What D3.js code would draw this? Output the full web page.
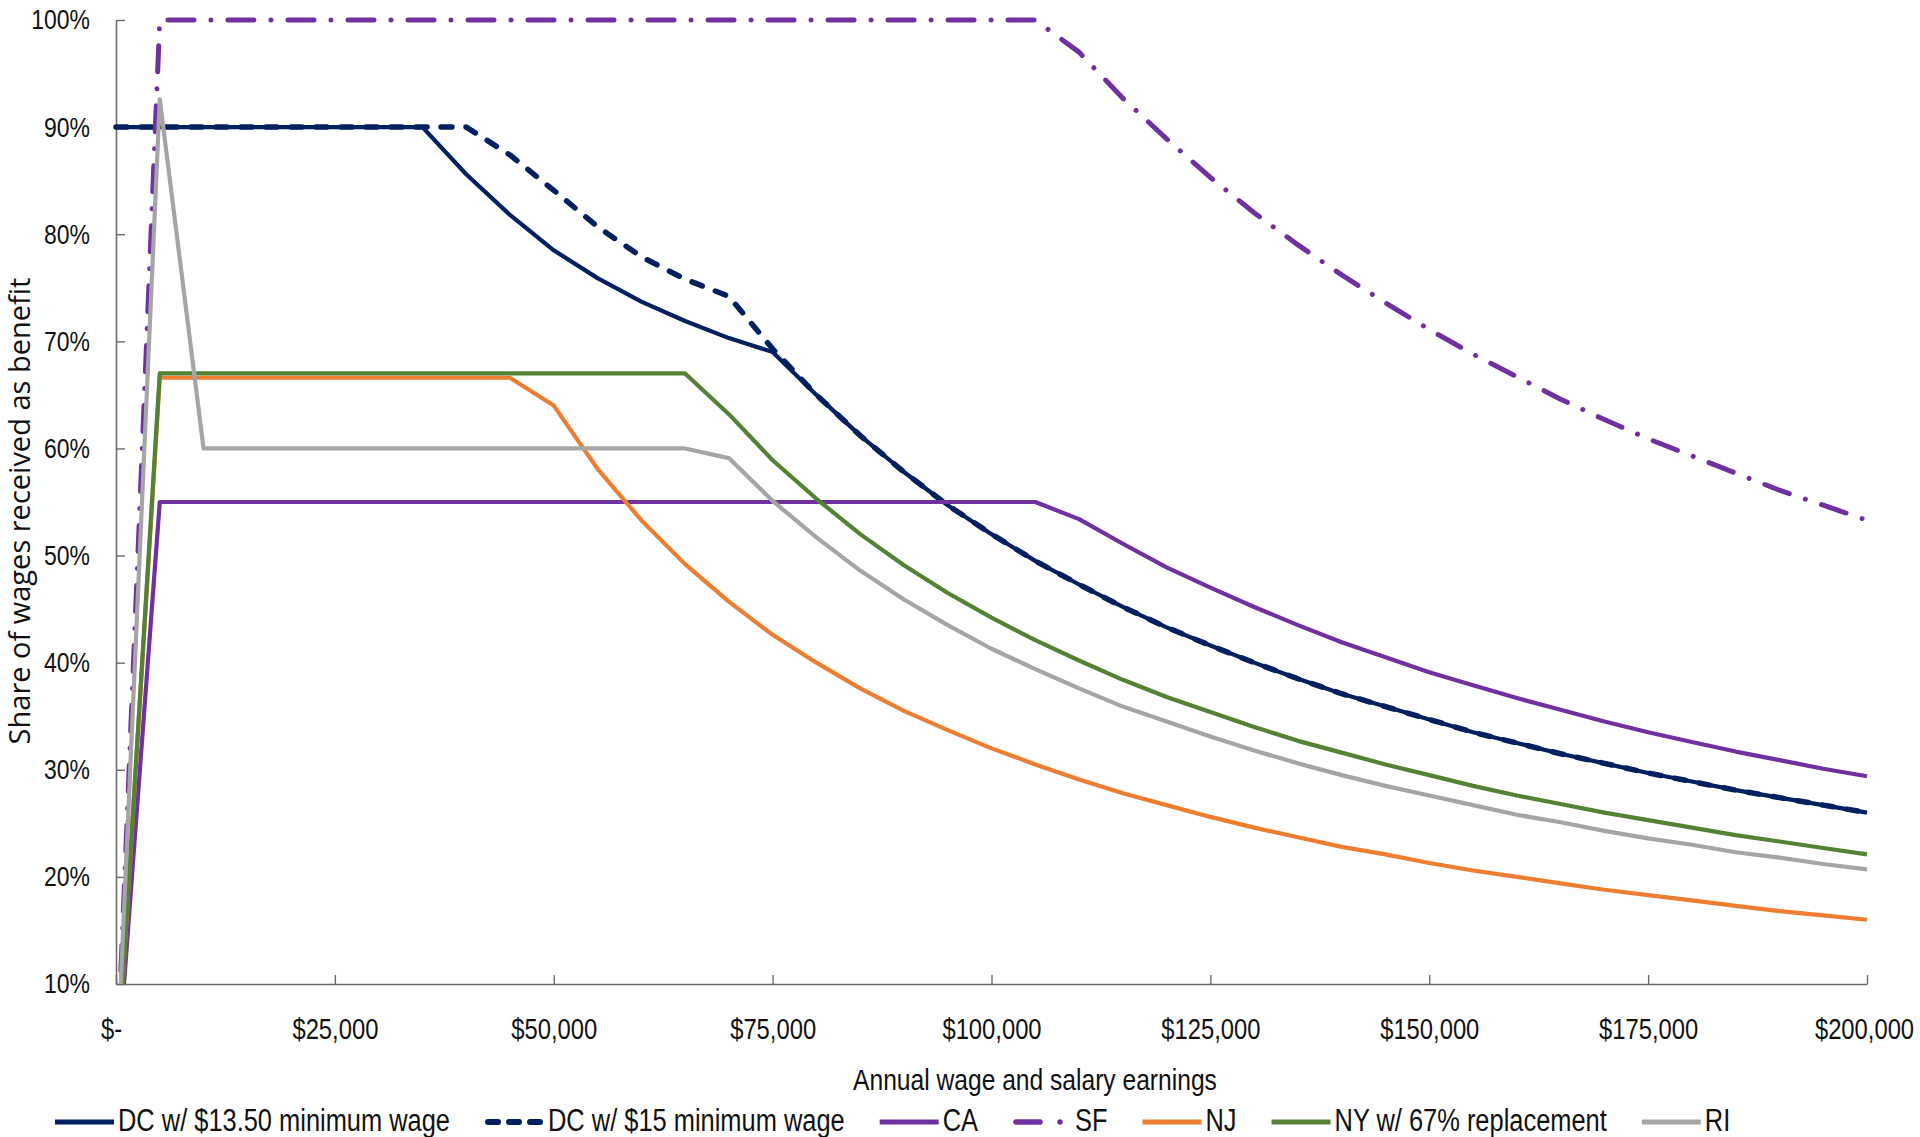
<!DOCTYPE html>
<html>
<head>
<meta charset="utf-8">
<script src="https://cdn.jsdelivr.net/npm/d3@7/dist/d3.min.js"></script>
<style>
  html, body { margin: 0; padding: 0; background: #fff; }
  svg { display: block; }
  .narrow { font-family: "Liberation Sans", Arial, sans-serif; }
</style>
</head>
<body>
<svg id="chart" width="1920" height="1137"></svg>
<script>
// Annual earnings at which each programme's benefit share is evaluated
const earnings = [
  0, 5000, 10000, 15000, 20000, 25000, 30000, 35000, 40000, 45000,
  50000, 55000, 60000, 65000, 70000, 75000, 80000, 85000, 90000, 95000,
  100000, 105000, 110000, 115000, 120000, 125000, 130000, 135000, 140000, 145000,
  150000, 155000, 160000, 165000, 170000, 175000, 180000, 185000, 190000, 195000,
  200000
];

// Share of wages received as benefit (%), one value per earnings level
const dc1350 = [
  90, 90, 90, 90, 90, 90, 90, 90, 85.6, 81.8,
  78.5, 75.9, 73.7, 71.9, 70.3, 69.0, 65.0, 61.2, 57.8, 54.7,
  52.0, 49.5, 47.3, 45.2, 43.3, 41.6, 40.0, 38.5, 37.1, 35.9,
  34.7, 33.5, 32.5, 31.5, 30.6, 29.7, 28.9, 28.1, 27.4, 26.7,
  26.0
];
const dc15 = [
  90, 90, 90, 90, 90, 90, 90, 90, 90, 87.4,
  84.1, 80.7, 77.9, 75.8, 74.2, 69.3, 65.0, 61.2, 57.8, 54.7,
  52.0, 49.5, 47.3, 45.2, 43.3, 41.6, 40.0, 38.5, 37.1, 35.9,
  34.7, 33.5, 32.5, 31.5, 30.6, 29.7, 28.9, 28.1, 27.4, 26.7,
  26.0
];
const ca = [
  0, 55, 55, 55, 55, 55, 55, 55, 55, 55,
  55, 55, 55, 55, 55, 55, 55, 55, 55, 55,
  55, 55, 53.4, 51.1, 48.9, 47.0, 45.2, 43.5, 41.9, 40.5,
  39.1, 37.9, 36.7, 35.6, 34.5, 33.5, 32.6, 31.7, 30.9, 30.1,
  29.4
];
const sf = [
  0, 100, 100, 100, 100, 100, 100, 100, 100, 100,
  100, 100, 100, 100, 100, 100, 100, 100, 100, 100,
  100, 100, 97.0, 92.7, 88.9, 85.3, 82.0, 79.0, 76.2, 73.6,
  71.1, 68.8, 66.7, 64.6, 62.7, 60.9, 59.3, 57.7, 56.1, 54.7,
  53.3
];
const nj = [
  0, 66.6, 66.6, 66.6, 66.6, 66.6, 66.6, 66.6, 66.6, 66.6,
  64.0, 58.1, 53.3, 49.2, 45.7, 42.6, 40.0, 37.6, 35.5, 33.7,
  32.0, 30.5, 29.1, 27.8, 26.7, 25.6, 24.6, 23.7, 22.8, 22.1,
  21.3, 20.6, 20.0, 19.4, 18.8, 18.3, 17.8, 17.3, 16.8, 16.4,
  16.0
];
const ny = [
  0, 67, 67, 67, 67, 67, 67, 67, 67, 67,
  67, 67, 67, 67, 63.2, 58.9, 55.3, 52.0, 49.1, 46.5,
  44.2, 42.1, 40.2, 38.4, 36.8, 35.4, 34.0, 32.7, 31.6, 30.5,
  29.5, 28.5, 27.6, 26.8, 26.0, 25.3, 24.6, 23.9, 23.3, 22.7,
  22.1
];
const ri = [
  0, 92.6, 60, 60, 60, 60, 60, 60, 60, 60,
  60, 60, 60, 60, 59.1, 55.1, 51.7, 48.6, 45.9, 43.5,
  41.3, 39.4, 37.6, 35.9, 34.5, 33.1, 31.8, 30.6, 29.5, 28.5,
  27.6, 26.7, 25.8, 25.1, 24.3, 23.6, 23.0, 22.3, 21.8, 21.2,
  20.7
];

const seriesNames = [
  "DC w/ $13.50 minimum wage", "DC w/ $15 minimum wage", "CA", "SF",
  "NJ", "NY w/ 67% replacement", "RI"
];

const xTicks = [0, 25000, 50000, 75000, 100000, 125000, 150000, 175000, 200000];
const yTicks = [10, 20, 30, 40, 50, 60, 70, 80, 90, 100];

// Line styling per series (drawn in this order, later ones on top)
const styles = [
  { color: "#002060", width: 4.2, dash: null },
  { color: "#002060", width: 5.5, dash: "11 14" },
  { color: "#7030A0", width: 4.2, dash: null },
  { color: "#7030A0", width: 5, dash: "26 17 0.01 17" },
  { color: "#ED7D31", width: 4.2, dash: null },
  { color: "#548235", width: 4.2, dash: null },
  { color: "#A5A5A5", width: 4.2, dash: null }
];
const seriesValues = [dc1350, dc15, ca, sf, nj, ny, ri];
const series = seriesNames.map((name, k) => ({ name, values: seriesValues[k], ...styles[k] }));

// Squeeze text horizontally to get a condensed face from the regular one
const SQUEEZE = 0.82;
function condense(sel) {
  sel.each(function () {
    const w = this.getComputedTextLength();
    d3.select(this).attr("textLength", w * SQUEEZE).attr("lengthAdjust", "spacingAndGlyphs");
  });
}

const svg = d3.select("#chart");
svg.append("rect").attr("width", 1920).attr("height", 1137).attr("fill", "#fff");

const x = d3.scaleLinear().domain([0, 200000]).range([116, 1867]);
const y = d3.scaleLinear().domain([10, 100]).range([984, 20]);

// Clip lines that dip below the 10% floor of the value axis
svg.append("defs").append("clipPath").attr("id", "plotClip")
  .append("rect").attr("x", 0).attr("y", 0).attr("width", 1920).attr("height", y(10));

const axisColor = "#6b6b6b";

// Value axis
const yAxis = svg.append("g")
  .attr("transform", `translate(${x(0)},0)`)
  .call(d3.axisLeft(y).tickValues(yTicks).tickSizeInner(-9).tickSizeOuter(0)
    .tickPadding(26).tickFormat(d => d + "%"));
yAxis.selectAll("text").attr("class", "narrow").attr("font-size", 28).attr("fill", "#111");

// Earnings axis
const xAxis = svg.append("g")
  .attr("transform", `translate(0,${y(10)})`)
  .call(d3.axisBottom(x).tickValues(xTicks).tickSizeInner(-9).tickSizeOuter(0)
    .tickPadding(34).tickFormat(d => d === 0 ? "$-" : d3.format("$,")(d)));
xAxis.selectAll("text").attr("class", "narrow").attr("font-size", 29).attr("fill", "#111")
  .attr("dx", d => d === 0 ? -5 : (d === 200000 ? -3 : 0));

[yAxis, xAxis].forEach(g => {
  g.attr("font-family", null);
  g.select(".domain").attr("stroke", axisColor).attr("stroke-width", 1.6);
  g.selectAll(".tick line").attr("stroke", axisColor).attr("stroke-width", 1.4);
  condense(g.selectAll("text"));
});

// Series lines
const line = d3.line()
  .x((d, i) => x(earnings[i]))
  .y(d => y(d));

svg.append("g").attr("clip-path", "url(#plotClip)")
  .selectAll("path")
  .data(series)
  .join("path")
  .attr("d", d => line(d.values))
  .attr("fill", "none")
  .attr("stroke", d => d.color)
  .attr("stroke-width", d => d.width)
  .attr("stroke-linejoin", "round")
  .attr("stroke-linecap", d => d.dash ? "round" : "butt")
  .attr("stroke-dasharray", d => d.dash);

// Axis titles
svg.append("text")
  .attr("class", "narrow")
  .attr("x", 1035).attr("y", 1090)
  .attr("text-anchor", "middle")
  .attr("font-size", 30).attr("fill", "#111")
  .text("Annual wage and salary earnings")
  .call(condense);

svg.append("text")
  .attr("transform", `translate(30,${(y(10) + y(100)) / 2 + 9}) rotate(-90)`)
  .attr("text-anchor", "middle")
  .attr("font-family", "'Open Sans', 'Noto Sans', sans-serif")
  .attr("font-size", 29).attr("fill", "#111")
  .text("Share of wages received as benefit");

// Legend laid out left to right
const legend = svg.append("g");
let lx = 55;
series.forEach(s => {
  const item = legend.append("g");
  const isSF = s.name === "SF";
  item.append("line")
    .attr("x1", lx + (s.dash ? 3 : 0)).attr("x2", lx + 59)
    .attr("y1", 1122).attr("y2", 1122)
    .attr("stroke", s.color)
    .attr("stroke-width", s.dash ? s.width + 0.5 : 5)
    .attr("stroke-linecap", s.dash ? "round" : "butt")
    .attr("stroke-dasharray", s.dash ? (isSF ? "24 20 0.01 40" : "10 11") : null);
  const gap = isSF ? 62 : 63;
  const t = item.append("text")
    .attr("class", "narrow")
    .attr("x", lx + gap).attr("y", 1131)
    .attr("font-size", 31).attr("fill", "#111")
    .text(s.name)
    .call(condense);
  // textLength already holds the squeezed width
  lx += gap + t.node().getComputedTextLength() + 35;
});
</script>
</body>
</html>
